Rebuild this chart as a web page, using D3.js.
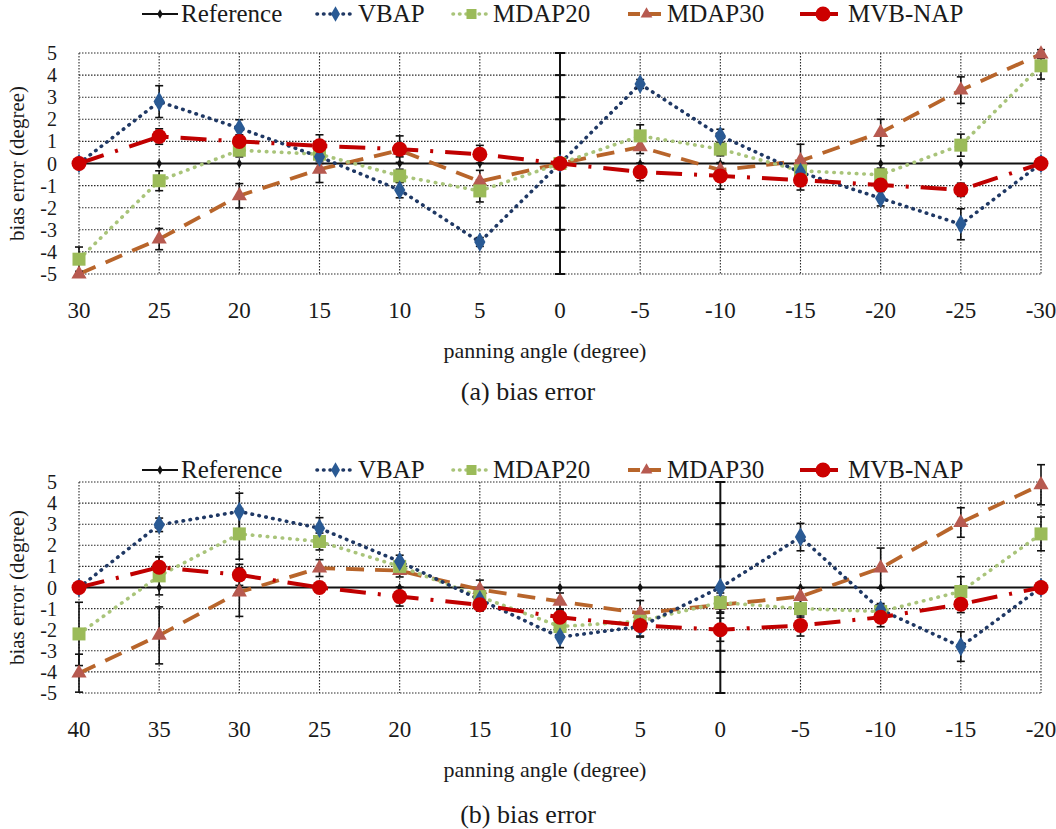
<!DOCTYPE html>
<html><head><meta charset="utf-8">
<script src="https://cdn.jsdelivr.net/npm/d3@7"></script>
<style>body{margin:0;background:#fff}svg{display:block}</style>
</head><body><svg id="c" width="1056" height="829" font-family="Liberation Serif" style="font-family:Liberation Serif"></svg>
<script>
// ---------- data ----------
const seriesNames = ["Reference","VBAP","MDAP20","MDAP30","MVB-NAP"];
const yTicks = [5,4,3,2,1,0,-1,-2,-3,-4,-5];

const catsA = [30,25,20,15,10,5,0,-5,-10,-15,-20,-25,-30];
const refA    = [0,0,0,0,0,0,0,0,0,0,0,0,0];
const vbapA   = [0,2.8,1.6,0.3,-1.2,-3.55,0,3.6,1.25,-0.4,-1.57,-2.75,0];
const vbapErrA= [0,0.72,0.38,0.3,0.35,0.2,0,0.2,0.3,0.3,0.35,0.7,0];
const md20A   = [-4.33,-0.78,0.6,0.42,-0.56,-1.24,0,1.25,0.65,-0.33,-0.51,0.83,4.42];
const md20ErrA= [0.55,0.45,0.3,0.3,0.3,0.5,0,0.5,0.3,0.3,0.3,0.5,0.6];
const md30A   = [-5.0,-3.42,-1.46,-0.26,0.6,-0.81,0,0.75,-0.3,0.12,1.4,3.32,4.95];
const md30ErrA= [0.1,0.48,0.55,0.6,0.3,0.5,0,0.3,0.3,0.75,0.6,0.6,0.2];
const mvbA    = [0,1.22,1.0,0.8,0.65,0.42,0,-0.38,-0.56,-0.75,-0.97,-1.19,0];
const mvbErrA = [0,0.35,0.3,0.5,0.6,0.4,0,0.4,0.6,0.45,0.3,0.3,0];

const catsB = [40,35,30,25,20,15,10,5,0,-5,-10,-15,-20];
const refB    = [0,0,0,0,0,0,0,0,0,0,0,0,0];
const vbapB   = [0,2.97,3.6,2.81,1.23,-0.58,-2.35,-1.85,0,2.39,-1.06,-2.8,0];
const vbapErrB= [0,0.32,0.87,0.5,0.3,0.3,0.5,0.5,0,0.65,0.3,0.7,0];
const md20B   = [-2.2,0.55,2.54,2.18,1.0,-0.43,-1.85,-1.6,-0.71,-1.0,-1.14,-0.19,2.54];
const md20ErrB= [1.5,0.9,1.2,0.4,0.3,0.3,0.4,0.4,0.45,0.4,0.3,0.7,0.8];
const md30B   = [-4.06,-2.27,-0.22,0.92,0.8,-0.1,-0.66,-1.22,-0.82,-0.43,0.92,3.08,4.87];
const md30ErrB= [0.9,1.35,1.15,0.4,0.3,0.45,0.4,0.6,0.4,0.4,0.95,0.7,0.95];
const mvbB    = [0,0.96,0.6,0,-0.43,-0.82,-1.41,-1.8,-2.0,-1.8,-1.41,-0.79,0];
const mvbErrB = [0,0.5,0.5,0.2,0.45,0.3,0.4,0.5,0.55,0.5,0.45,0.4,0];

// ---------- styles ----------
const FONT = "Liberation Serif";
const styles = {
  "Reference": {color:"#111", marker:"ref", dash:null, width:2.2, mcolor:"#111"},
  "VBAP":      {color:"#1f3864", marker:"diamond", dash:"0.5,6.5", width:3.6, mcolor:"#2a5a94", cap:"round"},
  "MDAP20":    {color:"#a9c47a", marker:"square", dash:"0.5,7", width:3.6, mcolor:"#9bbb59", cap:"round"},
  "MDAP30":    {color:"#b8652b", marker:"triangle", dash:"18,11", width:3.8, mcolor:"#b75a50"},
  "MVB-NAP":   {color:"#c00000", marker:"circle", dash:"26,12,3,12", width:4, mcolor:"#cc0000"}
};

const svg = d3.select("#c");

function txt(g, x, y, size, s, anchor){
  const t = g.append("text").attr("font-family",FONT).style("font-family",FONT)
    .attr("fill","#1a1a1a").attr("font-size",size).attr("x",x).attr("y",y).text(s);
  if(anchor) t.attr("text-anchor",anchor);
  return t;
}

function marker(g, type, x, y, col){
  if(type==="ref"){ g.append("path").attr("d",d3.symbol(d3.symbolDiamond,26)()).attr("transform",`translate(${x},${y})`).attr("fill","#111"); }
  else if(type==="diamond"){ g.append("path").attr("d",d3.symbol(d3.symbolDiamond,110)()).attr("transform",`translate(${x},${y})`).attr("fill",col); }
  else if(type==="square"){ g.append("rect").attr("x",x-6.5).attr("y",y-6.5).attr("width",13).attr("height",13).attr("fill",col); }
  else if(type==="triangle"){ g.append("path").attr("d",d3.symbol(d3.symbolTriangle,100)()).attr("transform",`translate(${x},${y})`).attr("fill",col); }
  else if(type==="circle"){ g.append("circle").attr("cx",x).attr("cy",y).attr("r",7.5).attr("fill",col); }
}

function legend(y){
  const g = svg.append("g");
  const items = [
    {n:"Reference", x1:142, x2:178, tx:181},
    {n:"VBAP", x1:317, x2:354, tx:358},
    {n:"MDAP20", x1:453, x2:490, tx:493},
    {n:"MDAP30", x1:628, x2:665, tx:667},
    {n:"MVB-NAP", x1:800, x2:838, tx:848}
  ];
  items.forEach(it=>{
    const s = styles[it.n];
    const ln = g.append("line").attr("x1",it.x1).attr("x2",it.x2).attr("y1",y).attr("y2",y)
      .attr("stroke",s.color).attr("stroke-width",s.width);
    if(it.n==="VBAP"||it.n==="MDAP20") ln.attr("stroke-dasharray","0.5,6").attr("stroke-linecap","round");
    else if(it.n==="MDAP30") ln.attr("stroke-dasharray","12,9");
    const cx=(it.x1+it.x2)/2;
    if(it.n==="Reference") marker(g,"ref",cx,y);
    else if(it.n==="VBAP") g.append("path").attr("d",d3.symbol(d3.symbolDiamond,70)()).attr("transform",`translate(${cx},${y})`).attr("fill",s.mcolor);
    else if(it.n==="MDAP20") g.append("rect").attr("x",cx-5).attr("y",y-5).attr("width",10).attr("height",10).attr("fill",s.mcolor);
    else if(it.n==="MDAP30") g.append("path").attr("d",d3.symbol(d3.symbolTriangle,60)()).attr("transform",`translate(${cx},${y})`).attr("fill",s.mcolor);
    else marker(g,"circle",cx+4,y,s.mcolor);
    txt(g, it.tx, y+8, 25, it.n);
  });
}

function panel(cfg){
  const x = d3.scalePoint().domain(cfg.cats.map(String)).range([79,1041]);
  const y = d3.scaleLinear().domain([-5,5]).range([cfg.bottom,cfg.top]);
  const g = svg.append("g");
  yTicks.forEach(t=>{
    if(t===0) return;
    g.append("line").attr("x1",79).attr("x2",1041).attr("y1",y(t)).attr("y2",y(t))
      .attr("stroke","#2a2a2a").attr("stroke-width",1.1).attr("stroke-dasharray","1.5,1.5");
  });
  cfg.cats.forEach(c=>{
    if(c===0) return;
    g.append("line").attr("x1",x(String(c))).attr("x2",x(String(c))).attr("y1",y(5)).attr("y2",y(-5))
      .attr("stroke","#2a2a2a").attr("stroke-width",1.1).attr("stroke-dasharray","1.5,1.5");
  });
  const x0 = x("0");
  g.append("line").attr("x1",x0).attr("x2",x0).attr("y1",y(5)).attr("y2",y(-5)).attr("stroke","#111").attr("stroke-width",2);
  yTicks.forEach(t=>{
    g.append("line").attr("x1",x0-5).attr("x2",x0+5).attr("y1",y(t)).attr("y2",y(t)).attr("stroke","#111").attr("stroke-width",2);
  });
  yTicks.forEach(t=>{
    txt(g, 57, y(t)+7, 20, t, "end");
  });
  cfg.cats.forEach(c=>{
    txt(g, x(String(c)), cfg.bottom+44, 23, c, "middle");
  });
  txt(g, 0, 0, 21, "bias error (degree)", "middle").attr("transform",`translate(24,${(cfg.top+cfg.bottom)/2}) rotate(-90)`);
  txt(g, 545, cfg.bottom+84, 22, "panning angle (degree)", "middle");
  txt(g, 528, cfg.capY, 26, cfg.caption, "middle");

  const order = ["Reference","MDAP30","MDAP20","VBAP","MVB-NAP"];
  const data = {"Reference":[cfg.ref,null],"VBAP":[cfg.vbap,cfg.vbapErr],"MDAP20":[cfg.md20,cfg.md20Err],"MDAP30":[cfg.md30,cfg.md30Err],"MVB-NAP":[cfg.mvb,cfg.mvbErr]};
  const line = d3.line().x((d,i)=>x(String(cfg.cats[i]))).y(d=>y(d));
  order.forEach(n=>{
    const s=styles[n]; const vals=data[n][0];
    const p=g.append("path").attr("d",line(vals)).attr("fill","none").attr("stroke",s.color).attr("stroke-width",s.width);
    if(s.dash) p.attr("stroke-dasharray",s.dash);
    if(s.cap) p.attr("stroke-linecap",s.cap);
  });
  order.forEach(n=>{
    const vals=data[n][0], errs=data[n][1]; if(!errs) return;
    vals.forEach((v,i)=>{
      const e=errs[i]; if(!e) return;
      const cx=x(String(cfg.cats[i]));
      g.append("line").attr("x1",cx).attr("x2",cx).attr("y1",y(v+e)).attr("y2",y(v-e)).attr("stroke","#111").attr("stroke-width",1.6);
      [v+e,v-e].forEach(t=>g.append("line").attr("x1",cx-4).attr("x2",cx+4).attr("y1",y(t)).attr("y2",y(t)).attr("stroke","#111").attr("stroke-width",1.6));
    });
  });
  order.forEach(n=>{
    const s=styles[n]; const vals=data[n][0];
    vals.forEach((v,i)=>marker(g,s.marker,x(String(cfg.cats[i])),y(v),s.mcolor));
  });
}

legend(14);
panel({cats:catsA, top:53, bottom:274, capY:400, caption:"(a) bias error",
  ref:refA, vbap:vbapA, vbapErr:vbapErrA, md20:md20A, md20Err:md20ErrA, md30:md30A, md30Err:md30ErrA, mvb:mvbA, mvbErr:mvbErrA});
legend(470);
panel({cats:catsB, top:482, bottom:693, capY:823, caption:"(b) bias error",
  ref:refB, vbap:vbapB, vbapErr:vbapErrB, md20:md20B, md20Err:md20ErrB, md30:md30B, md30Err:md30ErrB, mvb:mvbB, mvbErr:mvbErrB});
</script></body></html>
